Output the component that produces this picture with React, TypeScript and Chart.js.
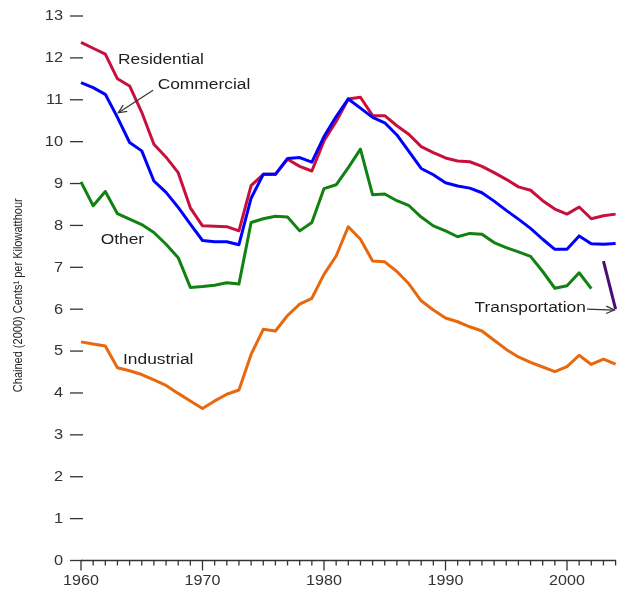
import React, { useEffect, useRef } from "react";
import { Chart, registerables } from "chart.js";

Chart.register(...registerables);

// ---------- data ----------
const years = [
  1960, 1961, 1962, 1963, 1964, 1965, 1966, 1967, 1968, 1969,
  1970, 1971, 1972, 1973, 1974, 1975, 1976, 1977, 1978, 1979,
  1980, 1981, 1982, 1983, 1984, 1985, 1986, 1987, 1988, 1989,
  1990, 1991, 1992, 1993, 1994, 1995, 1996, 1997, 1998, 1999,
  2000, 2001, 2002, 2003, 2004,
];

const residential = [
  12.37, 12.23, 12.09, 11.5, 11.33, 10.7, 9.94, 9.63, 9.26, 8.42,
  7.99, 7.98, 7.97, 7.87, 8.95, 9.22, 9.22, 9.58, 9.41, 9.3,
  10.02, 10.48, 11.02, 11.06, 10.62, 10.62, 10.38, 10.17, 9.88, 9.74,
  9.61, 9.54, 9.52, 9.41, 9.26, 9.1, 8.92, 8.84, 8.59, 8.39,
  8.27, 8.44, 8.16, 8.23, 8.27,
];

const commercial = [
  11.41, 11.29, 11.13, 10.58, 9.98, 9.78, 9.06, 8.79, 8.43, 8.03,
  7.64, 7.61, 7.61, 7.54, 8.65, 9.22, 9.22, 9.6, 9.62, 9.51,
  10.12, 10.6, 11.02, 10.8, 10.58, 10.45, 10.16, 9.76, 9.36, 9.21,
  9.02, 8.94, 8.89, 8.78, 8.58, 8.36, 8.15, 7.93, 7.67, 7.43,
  7.43, 7.75, 7.56, 7.55, 7.57,
];

const other = [
  9.04, 8.47, 8.81, 8.28, 8.15, 8.02, 7.83, 7.55, 7.23, 6.52,
  6.54, 6.57, 6.63, 6.6, 8.07, 8.16, 8.22, 8.2, 7.87, 8.07,
  8.88, 8.97, 9.38, 9.82, 8.73, 8.75, 8.59, 8.47, 8.2, 7.99,
  7.87, 7.73, 7.81, 7.79, 7.59, 7.47, 7.37, 7.26, 6.9, 6.5,
  6.56, 6.87, 6.49, null, null,
];

const industrial = [
  5.22, 5.17, 5.12, 4.6, 4.53, 4.44, 4.31, 4.18, 3.99, 3.81,
  3.63, 3.81, 3.97, 4.07, 4.92, 5.52, 5.48, 5.85, 6.12, 6.26,
  6.83, 7.27, 7.97, 7.67, 7.15, 7.13, 6.9, 6.6, 6.2, 5.98,
  5.79, 5.7, 5.58, 5.48, 5.26, 5.04, 4.86, 4.73, 4.62, 4.51,
  4.63, 4.9, 4.68, 4.81, 4.69,
];

const transportation = [
  null, null, null, null, null, null, null, null, null, null,
  null, null, null, null, null, null, null, null, null, null,
  null, null, null, null, null, null, null, null, null, null,
  null, null, null, null, null, null, null, null, null, null,
  null, null, null, 7.15, 6.0,
];

const yTickValues = [0, 1, 2, 3, 4, 5, 6, 7, 8, 9, 10, 11, 12, 13];
const xTickLabels = [1960, 1970, 1980, 1990, 2000];
const yAxisTitle = "Chained (2000) Cents\u00B9 per Kilowatthour";

// annotation labels anchored in data units
const seriesLabels = [
  { text: "Residential", year: 1963.05, value: 11.95, align: "left" },
  { text: "Commercial", year: 1966.31, value: 11.35, align: "left" },
  { text: "Other", year: 1961.62, value: 7.65, align: "left" },
  { text: "Industrial", year: 1963.46, value: 4.79, align: "left" },
  { text: "Transportation", year: 2001.55, value: 6.03, align: "right" },
];
const arrows = [
  { fromYear: 1965.93, fromValue: 11.23, toYear: 1963.07, toValue: 10.69 },
  { fromYear: 2001.65, fromValue: 6.0, toYear: 2003.9, toValue: 5.98 },
];

// ---------- styling ----------
const FONT = '"Liberation Sans", Arial, Helvetica, sans-serif';
const TEXT_COLOR = "#1e1e1e";
const AXIS_COLOR = "#333333";

function stretchText(
  ctx: CanvasRenderingContext2D,
  text: string,
  x: number,
  y: number,
  align: CanvasTextAlign,
  size: number,
  sx: number
) {
  ctx.save();
  ctx.translate(x, y);
  ctx.scale(sx, 1);
  ctx.font = `${size}px ${FONT}`;
  ctx.textAlign = align;
  ctx.textBaseline = "middle";
  ctx.fillText(text, 0, 0);
  ctx.restore();
}

function drawArrow(
  ctx: CanvasRenderingContext2D,
  x1: number,
  y1: number,
  x2: number,
  y2: number
) {
  ctx.beginPath();
  ctx.moveTo(x1, y1);
  ctx.lineTo(x2, y2);
  ctx.stroke();
  const a = Math.atan2(y2 - y1, x2 - x1);
  const L = 9;
  const w = 0.42;
  ctx.beginPath();
  ctx.moveTo(x2 - L * Math.cos(a - w), y2 - L * Math.sin(a - w));
  ctx.lineTo(x2, y2);
  ctx.lineTo(x2 - L * Math.cos(a + w), y2 - L * Math.sin(a + w));
  ctx.stroke();
}

const customAxes = {
  id: "customAxes",
  beforeDatasetsDraw(chart: any) {
    const { ctx } = chart;
    const xs = chart.scales.x;
    const ys = chart.scales.y;
    const left = xs.left;
    const bottom = ys.bottom;
    ctx.save();
    ctx.strokeStyle = AXIS_COLOR;
    ctx.lineWidth = 1.3;
    ctx.lineCap = "butt";
    // y tick dashes
    yTickValues.forEach((v) => {
      const py = ys.getPixelForValue(v);
      ctx.beginPath();
      ctx.moveTo(left - 11, py);
      ctx.lineTo(left + 2, py);
      ctx.stroke();
    });
    // x axis line
    ctx.beginPath();
    ctx.moveTo(left, bottom);
    ctx.lineTo(xs.right + 0.5, bottom);
    ctx.stroke();
    // x ticks (every year, long at decades)
    years.forEach((yr) => {
      const px = xs.getPixelForValue(yr);
      const len = yr % 10 === 0 ? 10 : 5;
      ctx.beginPath();
      ctx.moveTo(px, bottom);
      ctx.lineTo(px, bottom + len);
      ctx.stroke();
    });
    // tick labels
    ctx.fillStyle = AXIS_COLOR;
    yTickValues.forEach((v) => {
      stretchText(ctx, String(v), left - 18, ys.getPixelForValue(v) + 0.5, "right", 14, 1.17);
    });
    xTickLabels.forEach((yr) => {
      stretchText(ctx, String(yr), xs.getPixelForValue(yr), bottom + 20.5, "center", 14, 1.15);
    });
    // y axis title
    ctx.save();
    ctx.translate(18.5, (ys.top + ys.bottom) / 2 + 7);
    ctx.rotate(-Math.PI / 2);
    ctx.scale(1, 1.22);
    ctx.font = `11px ${FONT}`;
    ctx.textAlign = "center";
    ctx.textBaseline = "middle";
    ctx.fillStyle = TEXT_COLOR;
    ctx.fillText(yAxisTitle, 0, 0);
    ctx.restore();
    ctx.restore();
  },
  afterDatasetsDraw(chart: any) {
    const { ctx } = chart;
    const xs = chart.scales.x;
    const ys = chart.scales.y;
    ctx.save();
    ctx.fillStyle = TEXT_COLOR;
    seriesLabels.forEach((l) => {
      stretchText(
        ctx,
        l.text,
        xs.getPixelForValue(l.year),
        ys.getPixelForValue(l.value),
        l.align as CanvasTextAlign,
        14,
        1.24
      );
    });
    ctx.strokeStyle = AXIS_COLOR;
    ctx.lineWidth = 1.2;
    arrows.forEach((a) => {
      drawArrow(
        ctx,
        xs.getPixelForValue(a.fromYear),
        ys.getPixelForValue(a.fromValue),
        xs.getPixelForValue(a.toYear),
        ys.getPixelForValue(a.toValue)
      );
    });
    ctx.restore();
  },
};

function pts(values: (number | null)[]) {
  return years.map((yr, i) => ({ x: yr, y: values[i] }));
}

export default function App() {
  const canvasRef = useRef<HTMLCanvasElement | null>(null);

  useEffect(() => {
    document.body.style.margin = "0";
    const canvas = canvasRef.current;
    if (!canvas) return;
    const line = (label: string, data: (number | null)[], color: string) => ({
      label,
      data: pts(data),
      borderColor: color,
      backgroundColor: color,
      borderWidth: 3,
      pointRadius: 0,
      tension: 0,
      spanGaps: false,
      borderJoinStyle: "round" as const,
      borderCapStyle: "butt" as const,
      clip: false as const,
    });
    const chart = new Chart(canvas, {
      type: "line",
      data: {
        datasets: [
          line("Transportation", transportation, "#4B0C73"),
          line("Commercial", commercial, "#0000FF"),
          line("Residential", residential, "#C8103C"),
          line("Other", other, "#118111"),
          line("Industrial", industrial, "#E8680E"),
        ],
      },
      options: {
        responsive: false,
        animation: false,
        devicePixelRatio: 1,
        layout: { padding: { left: 0, right: 4.4, top: 16, bottom: 0 } },
        plugins: {
          legend: { display: false },
          tooltip: { enabled: false },
          title: { display: false },
        },
        scales: {
          x: {
            type: "linear",
            min: 1960,
            max: 2004,
            ticks: { display: false },
            grid: { display: false },
            border: { display: false },
            afterFit: (s: any) => {
              s.height = 31.5;
            },
          },
          y: {
            type: "linear",
            min: 0,
            max: 13,
            ticks: { display: false },
            grid: { display: false },
            border: { display: false },
            afterFit: (s: any) => {
              s.width = 81;
            },
          },
        },
      },
      plugins: [customAxes],
    });
    return () => chart.destroy();
  }, []);

  return (
    <div style={{ width: 620, height: 592, background: "#ffffff" }}>
      <canvas ref={canvasRef} width={620} height={592} style={{ display: "block" }} />
    </div>
  );
}
